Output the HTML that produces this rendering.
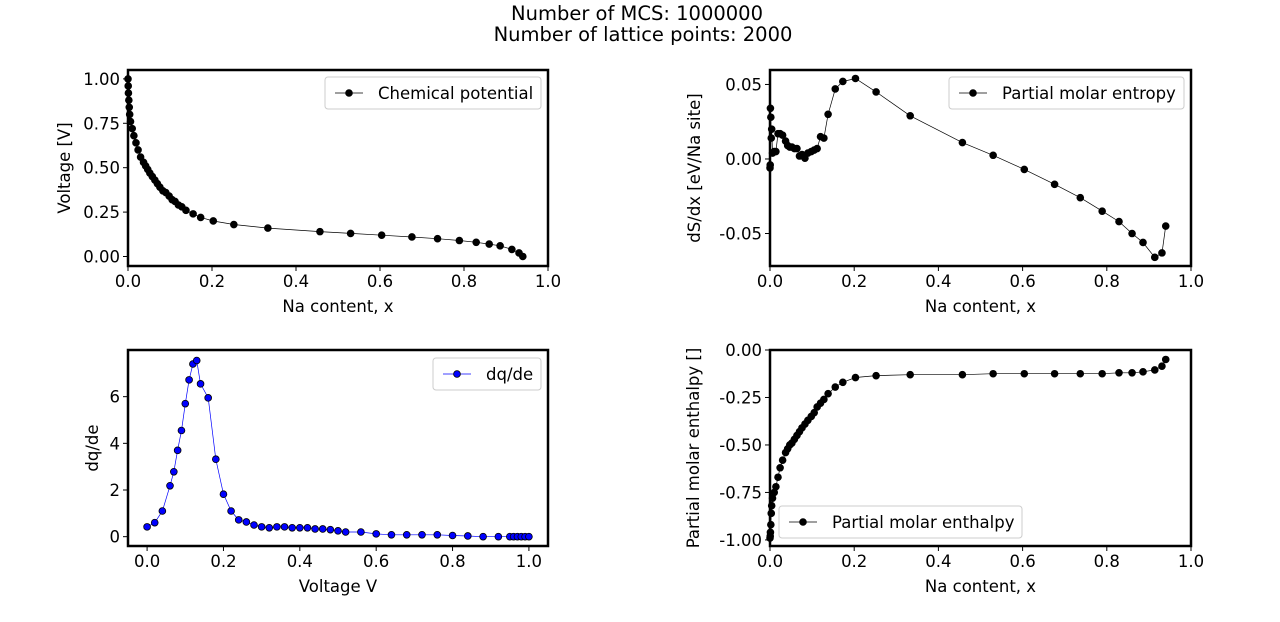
<!DOCTYPE html>
<html><head><meta charset="utf-8"><style>
body{margin:0;background:#fff;}
svg text{font-family:"DejaVu Sans","Liberation Sans",sans-serif;fill:#000;}
</style></head><body>
<svg id="fig" width="1280" height="617" xmlns="http://www.w3.org/2000/svg">
<rect width="1280" height="617" fill="#fff"/>
<text x="637" y="20" font-size="19.5" text-anchor="middle">Number of MCS: 1000000</text>
<text x="643" y="41" font-size="19.5" text-anchor="middle">Number of lattice points: 2000</text>
</svg>
<script>
// Shared Na content values
const naX = [0,0.0005,0.001,0.002,0.003,0.004,0.006,0.01,0.014,0.019,0.024,0.03,0.037,0.042,0.047,0.052,0.058,0.064,0.07,0.076,0.083,0.09,0.098,0.105,0.112,0.12,0.128,0.138,0.155,0.173,0.203,0.252,0.333,0.457,0.53,0.604,0.676,0.737,0.789,0.829,0.86,0.886,0.914,0.931,0.94];
const voltage = [1.0,0.96,0.92,0.88,0.84,0.80,0.76,0.72,0.68,0.64,0.60,0.56,0.53,0.51,0.49,0.47,0.45,0.43,0.41,0.39,0.37,0.36,0.34,0.32,0.31,0.29,0.28,0.26,0.24,0.22,0.20,0.18,0.16,0.14,0.13,0.12,0.11,0.10,0.09,0.08,0.07,0.06,0.04,0.02,0.0];
const entropy = [-0.006,-0.004,0.034,0.028,0.014,0.020,0.004,0.005,0.005,0.017,0.017,0.016,0.012,0.009,0.008,0.008,0.007,0.007,0.002,0.003,0.0005,0.004,0.005,0.006,0.007,0.015,0.014,0.030,0.047,0.052,0.054,0.045,0.029,0.011,0.0025,-0.007,-0.017,-0.026,-0.035,-0.042,-0.050,-0.056,-0.066,-0.063,-0.045];
const enthalpy = [-0.99,-0.98,-0.96,-0.92,-0.86,-0.82,-0.78,-0.75,-0.72,-0.67,-0.62,-0.58,-0.54,-0.52,-0.50,-0.49,-0.47,-0.45,-0.43,-0.41,-0.39,-0.37,-0.35,-0.33,-0.30,-0.28,-0.26,-0.23,-0.195,-0.17,-0.145,-0.135,-0.13,-0.13,-0.125,-0.125,-0.125,-0.125,-0.125,-0.12,-0.12,-0.115,-0.105,-0.085,-0.05];
const dqV = [0,0.02,0.04,0.06,0.07,0.08,0.09,0.10,0.11,0.12,0.13,0.14,0.16,0.18,0.20,0.22,0.24,0.26,0.28,0.30,0.32,0.34,0.36,0.38,0.40,0.42,0.44,0.46,0.48,0.50,0.52,0.56,0.60,0.64,0.68,0.72,0.76,0.80,0.84,0.88,0.92,0.95,0.96,0.97,0.98,0.99,1.0];
const dqde = [0.42,0.6,1.1,2.18,2.78,3.7,4.55,5.7,6.72,7.4,7.55,6.55,5.95,3.32,1.82,1.1,0.72,0.63,0.5,0.42,0.38,0.42,0.42,0.38,0.38,0.38,0.33,0.33,0.3,0.25,0.2,0.2,0.12,0.08,0.08,0.08,0.08,0.05,0.03,0.0,0.0,0,0,0,0,0,0];
const xTicksNa = [0,0.2,0.4,0.6,0.8,1.0];
const yTicksV = [0,0.25,0.5,0.75,1.0];
const yTicksS = [-0.05,0,0.05];
const yTicksDq = [0,2,4,6];
const yTicksH = [-1.0,-0.75,-0.5,-0.25,0.0];

const NS="http://www.w3.org/2000/svg";
const svg=document.getElementById('fig');
function mk(tag,attrs,parent){const e=document.createElementNS(NS,tag);for(const k in attrs)e.setAttribute(k,attrs[k]);(parent||svg).appendChild(e);return e;}

function panel(o){
  const g=mk('g',{});
  
  
  const sx=v=>o.L+(v-o.xmin)/(o.xmax-o.xmin)*(o.R-o.L);
  const sy=v=>o.B-(v-o.ymin)/(o.ymax-o.ymin)*(o.B-o.T);
  o.xt.forEach(t=>{const x=sx(t);
    const l=mk('line',{x1:x,x2:x,y1:o.B,y2:o.B+5,stroke:'#000','stroke-width':1},g);
    
    
    const tx=mk('text',{x:x,y:o.B+21,'font-size':16.5,'text-anchor':'middle'},g);
    
    
    tx.textContent=t.toFixed(1);});
  o.yt.forEach(t=>{const y=sy(t);
    const l=mk('line',{x1:o.L-5,x2:o.L,y1:y,y2:y,stroke:'#000','stroke-width':1},g);
    
    
    const tx=mk('text',{x:o.L-8,y:y+6,'font-size':16.5,'text-anchor':'end'},g);
    
    
    tx.textContent=o.fmt(t);});
  const pts=o.xs.map((v,i)=>sx(v).toFixed(1)+','+sy(o.ys[i]).toFixed(1)).join(' ');
  const pl=mk('polyline',{points:pts,fill:'none',stroke:o.lc,'stroke-width':0.7},g);
  
  
  o.xs.forEach((v,i)=>{
    const c=mk('circle',{cx:sx(v),cy:sy(o.ys[i]),r:3.4,fill:o.mf,stroke:'#000','stroke-width':0.8},g);
    
    
  });
  const fr=mk('rect',{x:o.L,y:o.T,width:o.R-o.L,height:o.B-o.T,fill:'none',stroke:'#000','stroke-width':2.5},g);
  
  
  const xl=mk('text',{x:(o.L+o.R)/2,y:o.B+46,'font-size':16.5,'text-anchor':'middle'},g);
  
  
  xl.textContent=o.xlabel;
  const cy=(o.T+o.B)/2;
  const yl=mk('text',{x:o.ylx,y:cy,'font-size':16.5,'text-anchor':'middle',transform:`rotate(-90 ${o.ylx} ${cy})`},g);
  
  
  yl.textContent=o.ylabel;
  const lg=mk('g',{},g);
  
  
  mk('rect',{x:o.lx,y:o.ly,width:o.lw,height:32,rx:3,fill:'#fff',stroke:'#ccc','stroke-width':1},lg);
  mk('line',{x1:o.lx+10,x2:o.lx+38,y1:o.ly+16,y2:o.ly+16,stroke:o.lc,'stroke-width':0.7},lg);
  mk('circle',{cx:o.lx+24,cy:o.ly+16,r:3.4,fill:o.mf,stroke:'#000','stroke-width':0.8},lg);
  const lt=mk('text',{x:o.lx+53,y:o.ly+22,'font-size':16.5},lg);
  
  
  lt.textContent=o.legend;
}
const f2=t=>t.toFixed(2);
panel({name:'chemical-potential-plot',L:128,R:548,T:70,B:266,xmin:0,xmax:1,ymin:-0.0535,ymax:1.05,xs:naX,ys:voltage,xt:xTicksNa,yt:yTicksV,fmt:f2,lc:'#000',mf:'#000',xlabel:'Na content, x',ylabel:'Voltage [V]',ylx:70,legend:'Chemical potential',lx:325,ly:77,lw:216});
panel({name:'partial-molar-entropy-plot',L:770,R:1191,T:70,B:266,xmin:0,xmax:1,ymin:-0.0718,ymax:0.0597,xs:naX,ys:entropy,xt:xTicksNa,yt:yTicksS,fmt:f2,lc:'#000',mf:'#000',xlabel:'Na content, x',ylabel:'dS/dx [eV/Na site]',ylx:700,legend:'Partial molar entropy',lx:949,ly:77,lw:235});
panel({name:'dqde-plot',L:128,R:548,T:350,B:546,xmin:-0.05,xmax:1.05,ymin:-0.4,ymax:8.0,xs:dqV,ys:dqde,xt:xTicksNa,yt:yTicksDq,fmt:t=>String(t),lc:'#00f',mf:'#00f',xlabel:'Voltage V',ylabel:'dq/de',ylx:98,legend:'dq/de',lx:433,ly:358,lw:108});
panel({name:'partial-molar-enthalpy-plot',L:770,R:1191,T:350,B:546,xmin:0,xmax:1,ymin:-1.032,ymax:0.0,xs:naX,ys:enthalpy,xt:xTicksNa,yt:yTicksH,fmt:f2,lc:'#000',mf:'#000',xlabel:'Na content, x',ylabel:'Partial molar enthalpy []',ylx:699,legend:'Partial molar enthalpy',lx:779,ly:506,lw:243});
</script>
</body></html>
